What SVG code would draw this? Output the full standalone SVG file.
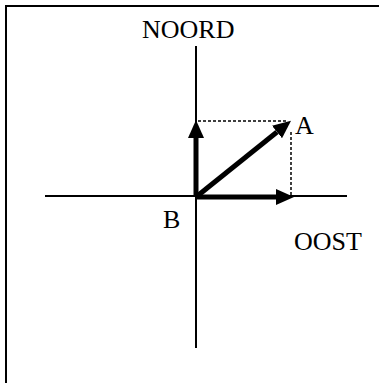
<svg xmlns="http://www.w3.org/2000/svg" width="379" height="383" viewBox="0 0 379 383">
<defs>
<style>
.axis{stroke:#000;stroke-width:2;fill:none}
.vec{stroke:#000;stroke-width:5;fill:none}
.dot{stroke:#000;stroke-width:1.5;stroke-dasharray:3 2;fill:none}
.lbl{font-family:"Liberation Serif","Times New Roman",serif;font-size:26px;fill:#000}
</style>
<marker id="ah" viewBox="0 0 18 16" refX="0" refY="8" markerWidth="18" markerHeight="16" markerUnits="userSpaceOnUse" orient="auto">
<path d="M0,0 L18,8 L0,16 Z" fill="#000"/>
</marker>
</defs>
<rect x="6" y="6" width="420" height="420" fill="#fff" stroke="#000" stroke-width="2"/>
<g id="axes">
<line class="axis" x1="196" y1="46" x2="196" y2="348"/>
<line class="axis" x1="45" y1="196" x2="347" y2="196"/>
</g>
<g id="connectors">
<line class="dot" x1="198" y1="121" x2="288" y2="121"/>
<line class="dot" x1="291" y1="132" x2="291" y2="195"/>
<line class="vec" x1="196" y1="197" x2="196" y2="138" marker-end="url(#ah)"/>
<line class="vec" x1="195" y1="197" x2="276" y2="197" marker-end="url(#ah)"/>
<line class="vec" x1="196" y1="197" x2="277" y2="132" marker-end="url(#ah)"/>
</g>
<g id="noord"><text class="lbl" x="142" y="38">NOORD</text></g>
<g id="oost"><text class="lbl" x="294" y="250">OOST</text></g>
<g id="A"><text class="lbl" x="295" y="134">A</text></g>
<g id="B"><text class="lbl" x="163" y="228">B</text></g>
</svg>
